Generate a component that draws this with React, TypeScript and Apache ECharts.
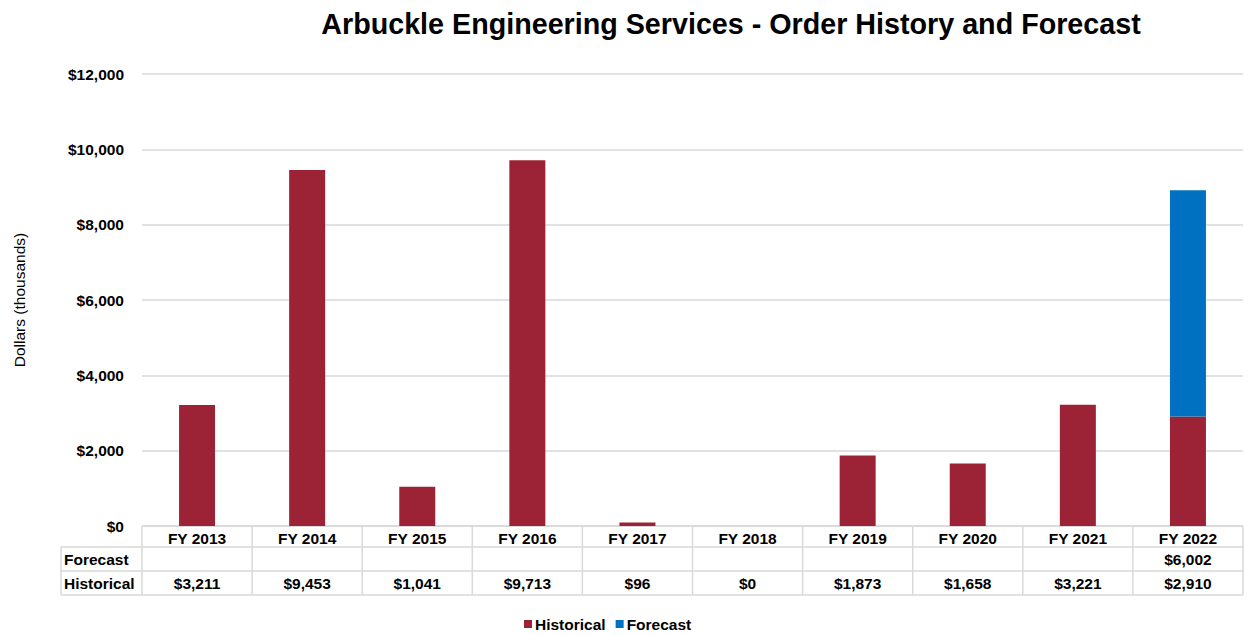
import React, { useEffect, useRef } from "react";
import * as echarts from "echarts";

const categories = ["FY 2013", "FY 2014", "FY 2015", "FY 2016", "FY 2017", "FY 2018", "FY 2019", "FY 2020", "FY 2021", "FY 2022"];
const historical = [3211, 9453, 1041, 9713, 96, 0, 1873, 1658, 3221, 2910];
const forecast: (number | null)[] = [null, null, null, null, null, null, null, null, null, 6002];
const yTicks = { min: 0, max: 12000, interval: 2000 };

const W = 1248;
const H = 635;
const GL = 142;
const GR = 5;
const GT = 74;
const GB = 109;
const HIST_COLOR = "#9B2335";
const FC_COLOR = "#0070C0";
const LINE_COLOR = "#D9D9D9";
const FONT = "Liberation Sans, Arial, sans-serif";
const FS = 15.5;

const fmt = (v: number | null) => (v === null || v === undefined ? "" : "$" + v.toLocaleString("en-US"));

export default function App() {
  const ref = useRef<HTMLDivElement>(null);
  useEffect(() => {
    document.body.style.margin = "0";
    const chart = echarts.init(ref.current!, null, { renderer: "svg" });
    const plotW = W - GL - GR;
    const cellW = plotW / categories.length;
    const axisY = H - GB;
    const tableLeft = 61;
    const row1 = axisY + 21;
    const row2 = axisY + 45;
    const row3 = axisY + 69;
    const line = (x1: number, y1: number, x2: number, y2: number) => ({
      type: "line",
      shape: { x1, y1, x2, y2 },
      style: { stroke: LINE_COLOR, lineWidth: 1.5 },
      silent: true,
    });
    const els: any[] = [];
    els.push(line(GL, axisY, W - GR, axisY));
    els.push(line(tableLeft, row1, W - GR, row1));
    els.push(line(tableLeft, row2, W - GR, row2));
    els.push(line(tableLeft, row3, W - GR, row3));
    els.push(line(tableLeft, row1, tableLeft, row3));
    for (let i = 0; i <= categories.length; i++) {
      const x = GL + i * cellW;
      els.push(line(x, axisY, x, row3));
    }
    const txt = (x: number, y: number, text: string, align: string) => ({
      type: "text",
      x,
      y,
      style: { text, fill: "#000", font: `bold ${FS}px ${FONT}`, align, verticalAlign: "middle" },
      silent: true,
    });
    els.push(txt(tableLeft + 3, (row1 + row2) / 2, "Forecast", "left"));
    els.push(txt(tableLeft + 3, (row2 + row3) / 2, "Historical", "left"));
    categories.forEach((_, i) => {
      const cx = GL + (i + 0.5) * cellW;
      els.push(txt(cx, (row1 + row2) / 2, fmt(forecast[i]), "center"));
      els.push(txt(cx, (row2 + row3) / 2, fmt(historical[i]), "center"));
    });

    chart.setOption({
      animation: false,
      title: {
        text: "Arbuckle Engineering Services - Order History and Forecast",
        left: 726,
        top: 4,
        textAlign: "center",
        textStyle: { fontFamily: FONT, fontWeight: "bold", fontSize: 28.7, color: "#000" },
      },
      grid: { left: GL, right: GR, top: GT, bottom: GB, containLabel: false },
      legend: {
        top: 614,
        left: 522,
        padding: 2,
        itemWidth: 8,
        itemHeight: 8,
        itemGap: 10,
        icon: "rect",
        data: ["Historical", "Forecast"],
        textStyle: { fontFamily: FONT, fontWeight: "bold", fontSize: FS, color: "#000", padding: [0, 0, 0, -2] },
      },
      xAxis: {
        type: "category",
        data: categories,
        axisLine: { show: false },
        axisTick: { show: false },
        axisLabel: { fontFamily: FONT, fontWeight: "bold", fontSize: FS, color: "#000", margin: 4, interval: 0 },
      },
      yAxis: {
        type: "value",
        min: yTicks.min,
        max: yTicks.max,
        interval: yTicks.interval,
        name: "Dollars (thousands)",
        nameLocation: "middle",
        nameRotate: 90,
        nameGap: 115,
        nameTextStyle: { fontFamily: FONT, fontSize: FS, color: "#000" },
        axisLabel: {
          fontFamily: FONT,
          fontWeight: "bold",
          fontSize: FS,
          color: "#000",
          margin: 18,
          formatter: (v: number) => "$" + v.toLocaleString("en-US"),
        },
        splitLine: { lineStyle: { color: LINE_COLOR, width: 1.5 } },
        axisLine: { show: false },
        axisTick: { show: false },
      },
      series: [
        {
          name: "Historical",
          type: "bar",
          stack: "total",
          barWidth: 36,
          data: historical,
          itemStyle: { color: HIST_COLOR },
        },
        {
          name: "Forecast",
          type: "bar",
          stack: "total",
          barWidth: 36,
          data: forecast,
          itemStyle: { color: FC_COLOR },
        },
      ],
      graphic: els,
    });
    return () => chart.dispose();
  }, []);
  return <div ref={ref} style={{ width: W, height: H }} />;
}
